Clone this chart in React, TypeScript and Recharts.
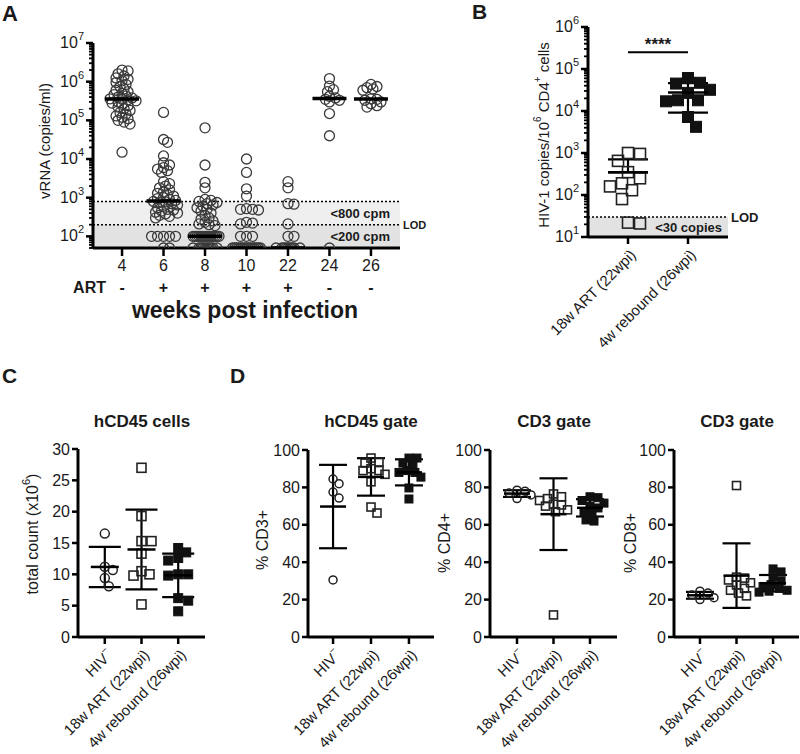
import React from "react";
import {
  ErrorBar,
  ReferenceArea,
  ReferenceLine,
  Scatter,
  ScatterChart,
  XAxis,
  YAxis,
} from "recharts";

const FONT = '"Liberation Sans", Arial, Helvetica, sans-serif';
const INK = "#1a1a1a";

// ---- A: plasma vRNA (copies/ml) by week post infection
const weeks = ["4", "6", "8", "10", "22", "24", "26"];
const artStatus = ["-", "+", "+", "+", "+", "-", "-"];
const vrnaWk4 = [2.0e6, 1.9e6, 1.6e6, 1.4e6, 1.25e6, 1.15e6, 1.05e6, 9.5e5, 8.5e5, 7.5e5, 6.5e5, 6.0e5, 5.5e5, 5.0e5, 4.6e5, 4.3e5, 4.0e5, 3.8e5, 3.6e5, 3.5e5, 3.4e5, 3.2e5, 3.0e5, 2.8e5, 2.6e5, 2.4e5, 2.2e5, 2.0e5, 1.8e5, 1.6e5, 1.45e5, 1.3e5, 1.2e5, 1.1e5, 1.0e5, 9.0e4, 8.0e4, 1.5e4];
const vrnaWk6 = [1.6e5, 3.2e4, 2.7e4, 1.2e4, 8000, 7000, 6000, 5500, 5000, 4500, 2600, 2300, 2000, 1800, 1600, 1400, 1300, 1200, 1100, 1000, 950, 900, 850, 800, 780, 750, 700, 650, 600, 550, 500, 480, 450, 420, 400, 380, 350, 330, 300, 100, 100, 100, 100, 100, 50, 50];
const vrnaWk8 = [6.4e4, 7000, 2500, 1800, 900, 850, 800, 750, 700, 650, 600, 550, 500, 450, 400, 350, 300, 280, 250, 230, 210, 200, 190, 100, 100, 100, 100, 100, 100, 100, 100, 100, 100, 100, 100, 100, 100, 50, 50, 50, 50, 50, 50, 50, 50, 50, 50];
const vrnaWk10 = [1.0e4, 4500, 1700, 1100, 520, 500, 500, 480, 230, 220, 210, 100, 100, 100, 50, 50, 50, 50, 50, 50, 50, 50, 50, 50, 50, 50, 50, 50, 50];
const vrnaWk22 = [2600, 1800, 700, 680, 210, 100, 100, 50, 50, 50, 50, 50, 50, 50, 50, 50];
const vrnaWk24 = [1.2e6, 7.7e5, 6.2e5, 5.5e5, 4.2e5, 3.8e5, 3.5e5, 3.3e5, 3.0e5, 1.5e5, 4.0e4, 50];
const vrnaWk26 = [8.5e5, 7.5e5, 7.0e5, 6.5e5, 6.0e5, 3.6e5, 3.5e5, 3.3e5, 3.0e5, 2.7e5, 2.4e5, 2.2e5];
const vrnaByWeek = [vrnaWk4, vrnaWk6, vrnaWk8, vrnaWk10, vrnaWk22, vrnaWk24, vrnaWk26];

// ---- B: HIV-1 DNA copies per 10^6 CD4+ cells
const reservoirArt = [1000, 950, 650, 350, 250, 190, 160, 130, 80, 22, 21];
const reservoirRebound = [6.1e4, 4.7e4, 4.5e4, 3.2e4, 2.7e4, 1.8e4, 1.8e4, 1.7e4, 7200, 4200];

// ---- C / D: cell counts and gates
const groupNames = ["HIV", "18w ART (22wpi)", "4w rebound (26wpi)"];
const groupSups = ["\u2212", "", ""];
const cd45Hiv = [16.5, 11.2, 10.7, 9.4, 8.1];
const cd45Art = [27, 19.3, 15.3, 15.3, 13.3, 10.5, 10, 9.8, 5.2];
const cd45Rebound = [14.2, 13.5, 12.6, 12.2, 10, 10, 9.8, 6.2, 5.8, 4.1];
const cd3Hiv = [84.5, 82, 77.5, 74.3, 30.5];
const cd3Art = [95.7, 93.6, 93, 90, 89, 89, 87, 83, 69.5, 66.3];
const cd3Rebound = [95.7, 95.7, 93, 92, 89, 88, 88, 85.5, 79.7, 73.8];
const cd4Hiv = [78.5, 78, 77, 76, 74];
const cd4Art = [76.5, 75, 74, 73, 71, 70.6, 70, 68, 67, 11.8];
const cd4Rebound = [75, 74.5, 73, 71.6, 70, 69, 67, 66, 62.6, 62];
const cd8Hiv = [24.5, 23.5, 22.5, 21, 20];
const cd8Art = [81, 32, 31.5, 30.5, 29, 27.8, 26, 25, 23.5, 22];
const cd8Rebound = [36.4, 34.8, 32, 30, 28, 27, 26, 25, 24.5, 24];

const mean = (a: number[]) => a.reduce((s, v) => s + v, 0) / a.length;
const sd = (a: number[]) => {
  const m = mean(a);
  return Math.sqrt(a.reduce((s, v) => s + (v - m) ** 2, 0) / (a.length - 1));
};
const median = (a: number[]) => {
  const s = [...a].sort((p, q) => p - q);
  const n = s.length;
  return n % 2 ? s[(n - 1) / 2] : (s[n / 2 - 1] + s[n / 2]) / 2;
};

// simple deterministic beeswarm: nudge points sideways until they stop overlapping
function swarm(values: number[], center: number, unitPx: number, yPx: (v: number) => number, minDist: number, maxOff: number) {
  const placed: { dx: number; py: number }[] = [];
  return values.map((v) => {
    const py = yPx(v);
    let best = 0;
    let bestGap = -1;
    const steps = 2 * Math.floor(maxOff / 2);
    for (let k = 0; k <= steps; k++) {
      const dx = k === 0 ? 0 : (k % 2 === 1 ? 1 : -1) * 2 * Math.ceil(k / 2);
      let gap = Infinity;
      for (const p of placed) gap = Math.min(gap, Math.hypot(p.dx - dx, p.py - py));
      if (gap >= minDist) {
        best = dx;
        break;
      }
      if (gap > bestGap + 0.01) {
        best = dx;
        bestGap = gap;
      }
    }
    placed.push({ dx: best, py });
    return { x: center + best / unitPx, y: v };
  });
}

function logTicks(lo: number, hi: number) {
  const out: number[] = [];
  for (let e = Math.floor(Math.log10(lo)); e <= Math.ceil(Math.log10(hi)); e++) {
    for (let m = 1; m < 10; m++) {
      const v = m * 10 ** e;
      if (v >= lo * 0.999 && v <= hi * 1.001) out.push(v);
    }
  }
  return out;
}

const axisStyle = { stroke: "#000", strokeWidth: 3 };

function LogTick(props: any) {
  const { x, y, payload } = props;
  const lg = Math.log10(payload.value);
  const major = Math.abs(lg - Math.round(lg)) < 1e-6;
  return (
    <g>
      <line x1={x} x2={x - (major ? 7 : 4)} y1={y} y2={y} stroke="#000" strokeWidth={major ? 2.5 : 1.8} />
      {major && (
        <text x={x - 9} y={y + 5} textAnchor="end" fontSize={16} fill={INK} fontFamily={FONT}>
          10<tspan dy={-8} fontSize={11}>{Math.round(lg)}</tspan>
        </text>
      )}
    </g>
  );
}

function LinTick(props: any) {
  const { x, y, payload } = props;
  return (
    <g>
      <line x1={x} x2={x - 6} y1={y} y2={y} stroke="#000" strokeWidth={2.5} />
      <text x={x - 8} y={y} textAnchor="end" dominantBaseline="central" fontSize={16} fill={INK} fontFamily={FONT}>
        {payload.value}
      </text>
    </g>
  );
}

function WeekTick(props: any) {
  const { x, y, payload } = props;
  const i = Math.round(payload.value);
  return (
    <g>
      <line x1={x} x2={x} y1={y} y2={y + 8} stroke="#000" strokeWidth={2.5} />
      <text x={x} y={y + 17} textAnchor="middle" dominantBaseline="central" fontSize={16} fill={INK} fontFamily={FONT}>
        {weeks[i]}
      </text>
      <text x={x} y={y + 39} textAnchor="middle" dominantBaseline="central" fontSize={16} fontWeight="bold" fill={INK} fontFamily={FONT}>
        {artStatus[i]}
      </text>
    </g>
  );
}

const makeGroupTick = (names: string[], sups: string[]) => (props: any) => {
  const { x, y, payload } = props;
  const i = Math.round(payload.value);
  return (
    <g>
      <line x1={x} x2={x} y1={y} y2={y + 7} stroke="#000" strokeWidth={2.5} />
      <text
        transform={`translate(${x + 5},${y + 15}) rotate(-45)`}
        textAnchor="end"
        dominantBaseline="central"
        fontSize={15}
        fill={INK}
        fontFamily={FONT}
      >
        {names[i]}
        {sups[i] ? <tspan dy={-6} fontSize={10}>{sups[i]}</tspan> : null}
      </text>
    </g>
  );
};

const groupShapes = (size: number) => [
  (p: any) => <circle cx={p.cx} cy={p.cy} r={size / 2} fill="none" stroke="#222" strokeWidth={1.5} />,
  (p: any) => <rect x={p.cx - size / 2} y={p.cy - size / 2} width={size} height={size} fill="none" stroke="#222" strokeWidth={1.6} />,
  (p: any) => <rect x={p.cx - size / 2} y={p.cy - size / 2} width={size} height={size} fill="#111" stroke="#111" strokeWidth={1} />,
];

const meanBar = (w: number, sw: number) => (p: any) => (
  <line x1={p.cx - w / 2} x2={p.cx + w / 2} y1={p.cy} y2={p.cy} stroke="#000" strokeWidth={sw} />
);

function PanelA() {
  const pts = vrnaByWeek.flatMap((vals, i) => swarm(vals, i, 41.5, (v) => -Math.log10(v) * 38.8, 4.6, 15));
  const medians = vrnaByWeek.map((vals, i) => ({ x: i, y: median(vals) }));
  const circle = (p: any) => <circle cx={p.cx} cy={p.cy} r={5} fill="none" stroke="#3a3a3a" strokeWidth={1.3} />;
  const lbl = { fill: INK, fontSize: 13, fontWeight: "bold", fontFamily: FONT };
  return (
    <div style={{ position: "absolute", left: 0, top: 0 }}>
      <ScatterChart width={430} height={330} margin={{ top: 43, right: 30, bottom: 52, left: 0 }}>
        <ReferenceArea y1={200} y2={800} fill="#efefef" fillOpacity={1} stroke="none" label={{ value: "<800 cpm", position: "insideRight", offset: 10, ...lbl }} />
        <ReferenceArea y1={50} y2={200} fill="#e2e2e2" fillOpacity={1} stroke="none" label={{ value: "<200 cpm", position: "insideRight", offset: 10, ...lbl }} />
        <ReferenceLine y={800} stroke="#000" strokeWidth={1.5} strokeDasharray="2 2" />
        <ReferenceLine y={200} stroke="#000" strokeWidth={1.5} strokeDasharray="2 2" label={{ value: "LOD", position: "right", offset: 3, ...lbl, fontSize: 11 }} />
        <XAxis type="number" dataKey="x" domain={[-0.7, 6.7]} ticks={[0, 1, 2, 3, 4, 5, 6]} allowDataOverflow height={30} axisLine={axisStyle} tickLine={false} tickSize={0} tickMargin={0} interval={0} tick={WeekTick} />
        <YAxis type="number" dataKey="y" scale="log" domain={[50, 1e7]} ticks={logTicks(50, 1e7)} allowDataOverflow width={93} axisLine={axisStyle} tickLine={false} tickSize={0} tickMargin={0} interval={0} tick={LogTick} />
        <Scatter data={pts} shape={circle} isAnimationActive={false} />
        <Scatter data={medians} shape={meanBar(34, 3.5)} isAnimationActive={false} />
      </ScatterChart>
    </div>
  );
}

function PanelB() {
  const yPx = (v: number) => -Math.log10(v) * 42;
  const art = swarm(reservoirArt, 0, 60, yPx, 12, 20);
  const reb = swarm(reservoirRebound, 1, 60, yPx, 12, 24);
  const summary = [reservoirArt, reservoirRebound].map((vals, i) => {
    const m = mean(vals);
    const s = sd(vals);
    return { x: i, y: m, err: [m - s > 0 ? s : 0, s] };
  });
  const shapes = groupShapes(11);
  const lbl = { fill: INK, fontSize: 13, fontWeight: "bold", fontFamily: FONT };
  return (
    <div style={{ position: "absolute", left: 460, top: 0 }}>
      <ScatterChart width={340} height={365} margin={{ top: 27, right: 72, bottom: 98, left: 0 }}>
        <ReferenceArea y1={10} y2={30} fill="#e2e2e2" fillOpacity={1} stroke="none" label={{ value: "<30 copies", position: "insideRight", offset: 6, ...lbl }} />
        <ReferenceLine y={30} stroke="#000" strokeWidth={1.5} strokeDasharray="2 2" label={{ value: "LOD", position: "right", offset: 3, ...lbl }} />
        <ReferenceLine segment={[{ x: 0, y: 2.5e5 }, { x: 1, y: 2.5e5 }]} stroke="#000" strokeWidth={2} label={{ value: "****", position: "top", offset: 2, ...lbl, fontSize: 17 }} />
        <XAxis type="number" dataKey="x" domain={[-0.667, 1.667]} ticks={[0, 1]} allowDataOverflow height={30} axisLine={axisStyle} tickLine={false} tickSize={0} tickMargin={0} interval={0} tick={makeGroupTick(groupNames.slice(1), groupSups.slice(1))} />
        <YAxis type="number" dataKey="y" scale="log" domain={[10, 1e6]} ticks={logTicks(10, 1e6)} allowDataOverflow width={128} axisLine={axisStyle} tickLine={false} tickSize={0} tickMargin={0} interval={0} tick={LogTick} />
        <Scatter data={art} shape={shapes[1]} isAnimationActive={false} />
        <Scatter data={reb} shape={shapes[2]} isAnimationActive={false} />
        <Scatter data={summary} shape={meanBar(40, 2.5)} isAnimationActive={false}>
          <ErrorBar dataKey="err" direction="y" width={20} stroke="#000" strokeWidth={2.2} />
        </Scatter>
      </ScatterChart>
    </div>
  );
}

type GroupPanelProps = {
  left: number;
  width: number;
  yAxisWidth: number;
  top: number;
  rightMargin: number;
  xDomain: [number, number];
  yMax: number;
  yTicks: number[];
  groups: number[][];
  unitPx: number;
  yScalePx: number;
  sym: number;
  bar: number;
  cap: number;
};

function GroupPanel(props: GroupPanelProps) {
  const { left, width, yAxisWidth, top, rightMargin, xDomain, yMax, yTicks, groups, unitPx, yScalePx, sym, bar, cap } = props;
  const pts = groups.map((vals, i) => swarm(vals, i, unitPx, (v) => -v * yScalePx, sym * 0.95, 14));
  const summary = groups.map((vals, i) => {
    const s = sd(vals);
    return { x: i, y: mean(vals), err: [s, s] };
  });
  const shapes = groupShapes(sym);
  return (
    <div style={{ position: "absolute", left, top: 330 }}>
      <ScatterChart width={width} height={424} margin={{ top, right: rightMargin, bottom: 87, left: 0 }}>
        <XAxis type="number" dataKey="x" domain={xDomain} ticks={[0, 1, 2]} allowDataOverflow height={30} axisLine={axisStyle} tickLine={false} tickSize={0} tickMargin={0} interval={0} tick={makeGroupTick(groupNames, groupSups)} />
        <YAxis type="number" dataKey="y" domain={[0, yMax]} ticks={yTicks} allowDataOverflow width={yAxisWidth} axisLine={axisStyle} tickLine={false} tickSize={0} tickMargin={0} interval={0} tick={LinTick} />
        {pts.map((d, i) => (
          <Scatter key={i} data={d} shape={shapes[i]} isAnimationActive={false} />
        ))}
        <Scatter data={summary} shape={meanBar(bar, 2.5)} isAnimationActive={false}>
          <ErrorBar dataKey="err" direction="y" width={cap} stroke="#000" strokeWidth={2.2} />
        </Scatter>
      </ScatterChart>
    </div>
  );
}

function Overlay() {
  const t = { fontFamily: FONT, fill: INK };
  const rot = (x: number, y: number) => `translate(${x},${y}) rotate(-90)`;
  return (
    <svg width={800} height={754} style={{ position: "absolute", left: 0, top: 0, pointerEvents: "none" }}>
      <text x={2} y={21} fontSize={22} fontWeight="bold" {...t}>A</text>
      <text x={472} y={19} fontSize={21} fontWeight="bold" {...t}>B</text>
      <text x={2} y={383} fontSize={21} fontWeight="bold" {...t}>C</text>
      <text x={230} y={383} fontSize={21} fontWeight="bold" {...t}>D</text>

      <text transform={rot(44, 141)} textAnchor="middle" dominantBaseline="central" fontSize={15} {...t}>vRNA (copies/ml)</text>
      <text x={106} y={287} textAnchor="end" dominantBaseline="central" fontSize={16} fontWeight="bold" {...t}>ART</text>
      <text x={245} y={310} textAnchor="middle" dominantBaseline="central" fontSize={23} fontWeight="bold" {...t}>weeks post infection</text>

      <text transform={rot(543, 135)} textAnchor="middle" dominantBaseline="central" fontSize={15} {...t}>
        HIV-1 copies/10<tspan dy={-6} fontSize={10}>6</tspan>
        <tspan dy={6}> CD4</tspan>
        <tspan dy={-6} fontSize={10}>+</tspan>
        <tspan dy={6}> cells</tspan>
      </text>

      <text x={142} y={427} textAnchor="middle" fontSize={17} fontWeight="bold" {...t}>hCD45 cells</text>
      <text x={371} y={427} textAnchor="middle" fontSize={17} fontWeight="bold" {...t}>hCD45 gate</text>
      <text x={554} y={427} textAnchor="middle" fontSize={17} fontWeight="bold" {...t}>CD3 gate</text>
      <text x={737} y={427} textAnchor="middle" fontSize={17} fontWeight="bold" {...t}>CD3 gate</text>

      <text transform={rot(32, 534)} textAnchor="middle" dominantBaseline="central" fontSize={16} {...t}>
        total count (x10<tspan dy={-6} fontSize={11}>6</tspan>
        <tspan dy={6}>)</tspan>
      </text>
      <text transform={rot(262, 540)} textAnchor="middle" dominantBaseline="central" fontSize={16} {...t}>% CD3+</text>
      <text transform={rot(444, 543)} textAnchor="middle" dominantBaseline="central" fontSize={16} {...t}>% CD4+</text>
      <text transform={rot(630, 543)} textAnchor="middle" dominantBaseline="central" fontSize={16} {...t}>% CD8+</text>
    </svg>
  );
}

export default function App() {
  return (
    <div style={{ position: "absolute", left: 0, top: 0, width: 800, height: 754, background: "#fff", fontFamily: FONT }}>
      <PanelA />
      <PanelB />
      <GroupPanel left={0} width={215} yAxisWidth={78} top={119} rightMargin={10} xDomain={[-0.73, 2.73]} yMax={30} yTicks={[0, 5, 10, 15, 20, 25, 30]} groups={[cd45Hiv, cd45Art, cd45Rebound]} unitPx={36.7} yScalePx={6.27} sym={9} bar={28} cap={16} />
      <GroupPanel left={220} width={224} yAxisWidth={88} top={120} rightMargin={10} xDomain={[-0.66, 2.66]} yMax={100} yTicks={[0, 20, 40, 60, 80, 100]} groups={[cd3Hiv, cd3Art, cd3Rebound]} unitPx={38} yScalePx={1.87} sym={8} bar={26} cap={14} />
      <GroupPanel left={450} width={177} yAxisWidth={40} top={120} rightMargin={10} xDomain={[-0.74, 2.74]} yMax={100} yTicks={[0, 20, 40, 60, 80, 100]} groups={[cd4Hiv, cd4Art, cd4Rebound]} unitPx={36.5} yScalePx={1.87} sym={8} bar={26} cap={14} />
      <GroupPanel left={630} width={170} yAxisWidth={44} top={120} rightMargin={1} xDomain={[-0.71, 2.71]} yMax={100} yTicks={[0, 20, 40, 60, 80, 100]} groups={[cd8Hiv, cd8Art, cd8Rebound]} unitPx={36.5} yScalePx={1.87} sym={8} bar={26} cap={14} />
      <Overlay />
    </div>
  );
}
